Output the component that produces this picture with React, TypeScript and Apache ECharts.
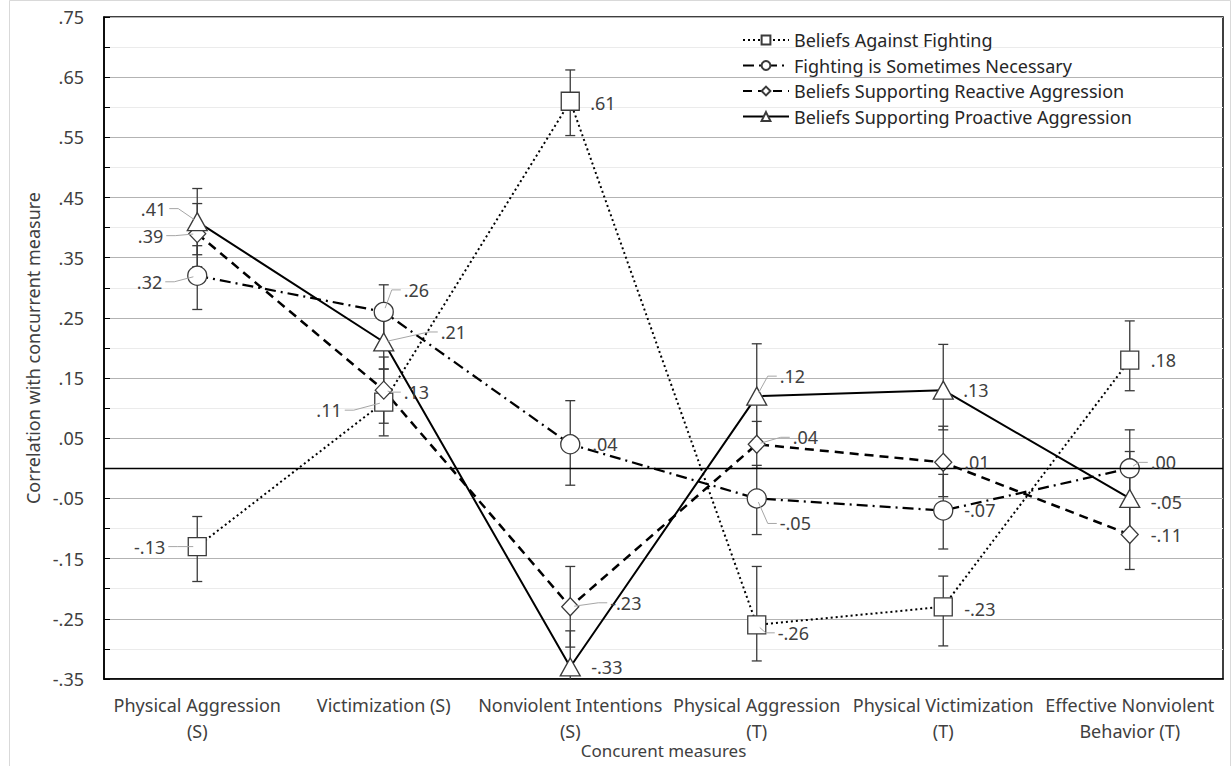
import React, { useEffect, useRef } from 'react';
import * as echarts from 'echarts';

const categories = [
  'Physical Aggression\n(S)',
  'Victimization (S)',
  'Nonviolent Intentions\n(S)',
  'Physical Aggression\n(T)',
  'Physical Victimization\n(T)',
  'Effective Nonviolent\nBehavior (T)',
];

const seriesNames = [
  'Beliefs Against Fighting',
  'Fighting is Sometimes Necessary',
  'Beliefs Supporting Reactive Aggression',
  'Beliefs Supporting Proactive Aggression',
];

// Beliefs Against Fighting
const againstFighting = [-0.13, 0.11, 0.61, -0.26, -0.23, 0.18];
const againstFightingLow = [-0.188, 0.054, 0.553, -0.32, -0.295, 0.129];
const againstFightingHigh = [-0.08, 0.165, 0.662, -0.163, -0.179, 0.245];

// Fighting is Sometimes Necessary
const sometimesNecessary = [0.32, 0.26, 0.04, -0.05, -0.07, 0.0];
const sometimesNecessaryLow = [0.264, 0.205, -0.028, -0.11, -0.134, -0.064];
const sometimesNecessaryHigh = [0.37, 0.305, 0.1125, 0.005, -0.01, 0.064];

// Beliefs Supporting Reactive Aggression
const reactive = [0.39, 0.13, -0.23, 0.04, 0.01, -0.11];
const reactiveLow = [0.335, 0.075, -0.297, 0.0, -0.047, -0.168];
const reactiveHigh = [0.44, 0.185, -0.163, 0.078, 0.07, -0.05];

// Beliefs Supporting Proactive Aggression
const proactive = [0.41, 0.21, -0.33, 0.12, 0.13, -0.05];
const proactiveLow = [0.355, 0.165, -0.39, 0.033, 0.064, -0.11];
const proactiveHigh = [0.465, 0.26, -0.27, 0.207, 0.206, 0.028];

const yMin = -0.35;
const yMax = 0.75;
const yInterval = 0.1;

const values = [againstFighting, sometimesNecessary, reactive, proactive];
const lows = [againstFightingLow, sometimesNecessaryLow, reactiveLow, proactiveLow];
const highs = [againstFightingHigh, sometimesNecessaryHigh, reactiveHigh, proactiveHigh];

// label placement (pixels from marker centre): [dx, dy, leader]
const labelPlacement: [number, number, boolean][][] = [
  [[-32, 0, true], [-42, 8, true], [20, 2, false], [21, 8, true], [21, 2, false], [21, 0, false]],
  [[-35, 6, true], [20, -22, true], [22, 0, false], [23, 25, true], [21, 0, false], [21, -6, true]],
  [[-34, 2, true], [20, 2, true], [40, -4, true], [36, -7, true], [21, 0, false], [21, 0, false]],
  [[-31, -13, true], [57, -10, true], [21, 0, false], [23, -20, true], [20, 0, false], [21, 4, false]],
];

const seriesStyles = [
  { symbol: 'rect', symbolSize: 18, type: [2, 3] as any, width: 2 },
  { symbol: 'circle', symbolSize: 19, type: [11, 5, 2, 5] as any, width: 2.25 },
  { symbol: 'diamond', symbolSize: [17, 18] as any, type: [9, 6] as any, width: 2.5 },
  { symbol: 'triangle', symbolSize: [20, 18] as any, type: 'solid' as any, width: 2 },
];

const FONT = "'Noto Sans', sans-serif";
const TEXT = '#404040';
const FS = 18;

const fmt = (v: number) => {
  const r = Math.round(v * 100) / 100;
  const s = Math.abs(r).toFixed(2).replace(/^0/, '');
  return (r < 0 ? '-' : '') + s;
};

export default function App() {
  const ref = useRef<HTMLDivElement>(null);

  useEffect(() => {
    if (!ref.current) return;
    const chart = echarts.init(ref.current, undefined, { renderer: 'svg' });

    const lineSeries = values.map((vals, s) => ({
      name: seriesNames[s],
      type: 'line',
      data: vals,
      z: 4,
      symbol: seriesStyles[s].symbol,
      symbolSize: seriesStyles[s].symbolSize,
      showAllSymbol: true,
      lineStyle: { color: '#000', width: seriesStyles[s].width, type: seriesStyles[s].type },
      itemStyle: { color: '#fff', borderColor: '#3a3a3a', borderWidth: 1.3 },
      label: { show: false },
    }));

    const errorSeries = values.map((vals, s) => ({
      type: 'custom',
      z: 3,
      silent: true,
      data: vals.map((_, i) => [i, lows[s][i], highs[s][i]]),
      encode: { x: 0, y: [1, 2] },
      renderItem: (params: any, api: any) => {
        const cs = params.coordSys;
        const top = api.coord([api.value(0), api.value(2)]);
        const bot = api.coord([api.value(0), api.value(1)]);
        const x = top[0];
        let y1 = top[1];
        let y2 = bot[1];
        const children: any[] = [];
        const capTop = y1 >= cs.y;
        const capBot = y2 <= cs.y + cs.height;
        y1 = Math.max(y1, cs.y);
        y2 = Math.min(y2, cs.y + cs.height);
        const st = { stroke: '#3a3a3a', lineWidth: 1.3 };
        children.push({ type: 'line', shape: { x1: x, y1, x2: x, y2 }, style: st });
        if (capTop) children.push({ type: 'line', shape: { x1: x - 5, y1, x2: x + 5, y2: y1 }, style: st });
        if (capBot) children.push({ type: 'line', shape: { x1: x - 5, y1: y2, x2: x + 5, y2 }, style: st });
        return { type: 'group', children };
      },
      ...(s === 0
        ? {
            markLine: {
              silent: true,
              symbol: 'none',
              label: { show: false },
              lineStyle: { color: '#000', width: 1.3, type: 'solid' },
              data: [{ yAxis: 0 }],
            },
          }
        : {}),
    }));

    const labelData: number[][] = [];
    values.forEach((vals, s) => vals.forEach((v, i) => labelData.push([i, v, s, i])));

    const labelSeries = {
      type: 'custom',
      z: 6,
      silent: true,
      data: labelData,
      encode: { x: 0, y: 1 },
      renderItem: (params: any, api: any) => {
        const p = api.coord([api.value(0), api.value(1)]);
        const s = api.value(2);
        const i = api.value(3);
        const [dx, dy, leader] = labelPlacement[s][i];
        const left = dx > 0;
        const tx = p[0] + dx;
        const ty = p[1] + dy;
        const children: any[] = [
          {
            type: 'text',
            x: tx,
            y: ty,
            style: {
              text: fmt(values[s][i]),
              fill: TEXT,
              fontSize: FS,
              fontFamily: FONT,
              align: left ? 'left' : 'right',
              verticalAlign: 'middle',
            },
          },
        ];
        if (leader) {
          const sx = left ? tx - 3 : tx + 3;
          const mx = left ? sx - 9 : sx + 9;
          const vx = p[0] - mx;
          const vy = p[1] - ty;
          const d = Math.sqrt(vx * vx + vy * vy) || 1;
          const ex = p[0] - (vx / d) * 4;
          const ey = p[1] - (vy / d) * 4;
          children.unshift({
            type: 'polyline',
            shape: { points: [[sx, ty], [mx, ty], [ex, ey]] },
            style: { stroke: '#a6a6a6', lineWidth: 1, fill: 'none' },
          });
        }
        return { type: 'group', children };
      },
    };

    chart.setOption({
      animation: false,
      backgroundColor: '#fff',
      textStyle: { fontFamily: FONT },
      graphic: [
        {
          type: 'rect',
          left: 7,
          top: -2,
          shape: { width: 1221, height: 790 },
          style: { fill: 'none', stroke: '#d9d9d9', lineWidth: 1 },
          silent: true,
        },
      ],
      grid: {
        left: 104,
        right: 9,
        top: 17,
        bottom: 87,
        show: true,
        borderColor: '#000',
        borderWidth: 1.5,
        backgroundColor: 'transparent',
        containLabel: false,
        outerBoundsMode: 'none',
      },
      legend: {
        data: seriesNames,
        orient: 'vertical',
        left: 737,
        top: 26,
        itemWidth: 46,
        itemHeight: 11,
        itemGap: 7.5,
        textStyle: { fontSize: FS, fontFamily: FONT, color: '#262626' },
      },
      xAxis: {
        type: 'category',
        data: categories,
        boundaryGap: true,
        name: 'Concurent measures',
        nameLocation: 'middle',
        nameGap: 63,
        nameMoveOverlap: false,
        nameTextStyle: { fontSize: 17, color: TEXT, fontFamily: FONT },
        axisLine: { show: true, onZero: false, lineStyle: { color: '#000', width: 1.5 } },
        axisTick: { show: false },
        axisLabel: {
          fontSize: FS,
          color: TEXT,
          fontFamily: FONT,
          lineHeight: 26,
          margin: 13,
          interval: 0,
        },
        splitLine: { show: false },
      },
      yAxis: {
        type: 'value',
        min: yMin,
        max: yMax,
        interval: yInterval,
        name: 'Correlation with concurrent measure',
        nameLocation: 'middle',
        nameGap: 62,
        nameMoveOverlap: false,
        nameTextStyle: { fontSize: FS, color: TEXT, fontFamily: FONT },
        axisLine: { show: true, lineStyle: { color: '#000', width: 1.5 } },
        axisTick: { show: true, inside: true, length: 6, lineStyle: { color: '#000' } },
        minorTick: { show: true, splitNumber: 2, length: 6, lineStyle: { color: '#000' } },
        axisLabel: {
          fontSize: FS,
          color: TEXT,
          fontFamily: FONT,
          margin: 20,
          formatter: (v: number) => fmt(v),
        },
        splitLine: { show: true, lineStyle: { color: '#b3b3b3', width: 1 } },
        minorSplitLine: { show: true, lineStyle: { color: '#ebebeb', width: 1 } },
      },
      series: [...errorSeries, ...lineSeries, labelSeries],
    } as any);

    return () => chart.dispose();
  }, []);

  return (
    <div
      ref={ref}
      style={{ position: 'fixed', left: 0, top: 0, width: 1232, height: 766, background: '#fff' }}
    />
  );
}
